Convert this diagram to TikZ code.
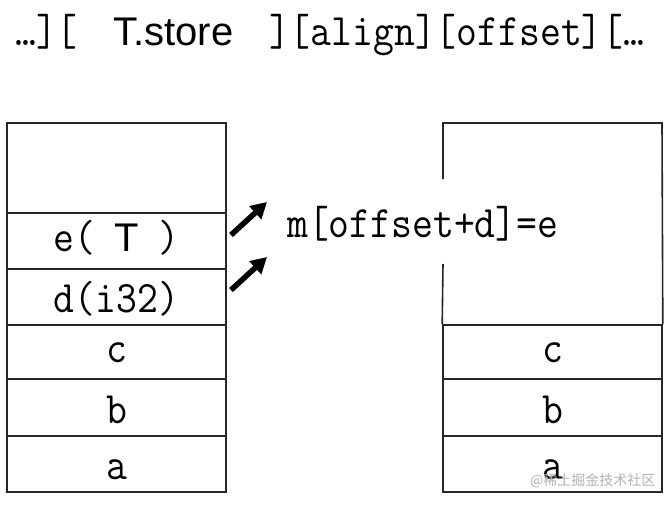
\documentclass[tikz,border=0pt]{standalone}
\usepackage{fontspec}
\setmonofont{Latin Modern Mono}[FakeStretch=0.9]
\setsansfont{Liberation Sans}
\newfontfamily\cjk{Noto Sans CJK SC}
\usetikzlibrary{arrows.meta}
\begin{document}
\begin{tikzpicture}[x=1pt,y=-1pt]
\tikzset{
  cell/.style={draw=black!85, line width=1.6pt, minimum width=219pt, minimum height=#1, inner sep=0pt},
  mono/.style={font=\fontsize{45}{50}\selectfont\ttfamily, inner sep=0pt, anchor=base},
  sanst/.style={font=\fontsize{40}{46}\selectfont\sffamily},
  border/.style={draw=black!85, line width=1.6pt},
  bigarrow/.style={line width=5.5pt, -{Triangle[length=16pt,width=17pt]}},
  wmark/.style={font=\cjk\fontsize{14}{14}\selectfont, text=black!30, inner sep=0pt, anchor=west}
}
\useasboundingbox (0,0) rectangle (670,504);
\fill[white] (0,0) rectangle (670,504);
% top line
\node[mono, anchor=base west] (top) at (15,45)
  {…][\makebox[191.3pt][c]{\fontsize{40}{46}\selectfont\sffamily T.store}][align][offset][…};
% left stack
\node[cell=90pt] (L0) at (116.5,168) {};
\node[cell=56pt] (Le) at (116.5,241) {};
\node[cell=56pt] (Ld) at (116.5,297) {};
\node[cell=54pt] (Lc) at (116.5,352) {};
\node[cell=57pt] (Lb) at (116.5,407.5) {};
\node[cell=56pt] (La) at (116.5,464) {};
\node[mono] (te) at (116.5,251) {e(\makebox[63.8pt][c]{\fontsize{40}{46}\selectfont\sffamily T})};
\node[mono] (td) at (116.5,312) {d(i32)};
\node[mono] (tc) at (116.5,362) {c};
\node[mono] (tb) at (116.5,423) {b};
\node[mono] (ta) at (116.5,479) {a};
% right stack
\coordinate (rtl) at (443,123);
\coordinate (rtr) at (662,123);
\coordinate (rg1) at (443,179);
\coordinate (rg2) at (443,264);
\node[cell=54pt] (Rc) at (552.5,352) {};
\node[cell=57pt] (Rb) at (552.5,407.5) {};
\node[cell=56pt] (Ra) at (552.5,464) {};
\draw[border] (rg1) -- (rtl) -- (rtr) -- (Rc.north east);
\draw[border] (rg2) -- (Rc.north west);
\node[mono] (rc) at (552.5,362) {c};
\node[mono] (rb) at (552.5,423) {b};
\node[mono] (ra) at (552.5,479) {a};
% middle text
\node[mono, anchor=base west] (mt) at (287,237) {m[offset+d]=e};
% arrows
\coordinate (a1s) at (231,235);
\coordinate (a1e) at (267,202);
\coordinate (a2s) at (231,290);
\coordinate (a2e) at (267,257);
\draw[bigarrow] (a1s) -- (a1e);
\draw[bigarrow] (a2s) -- (a2e);
% watermark
\node[wmark] (wm) at (530,481) {@稀土掘金技术社区};
\end{tikzpicture}
\end{document}
